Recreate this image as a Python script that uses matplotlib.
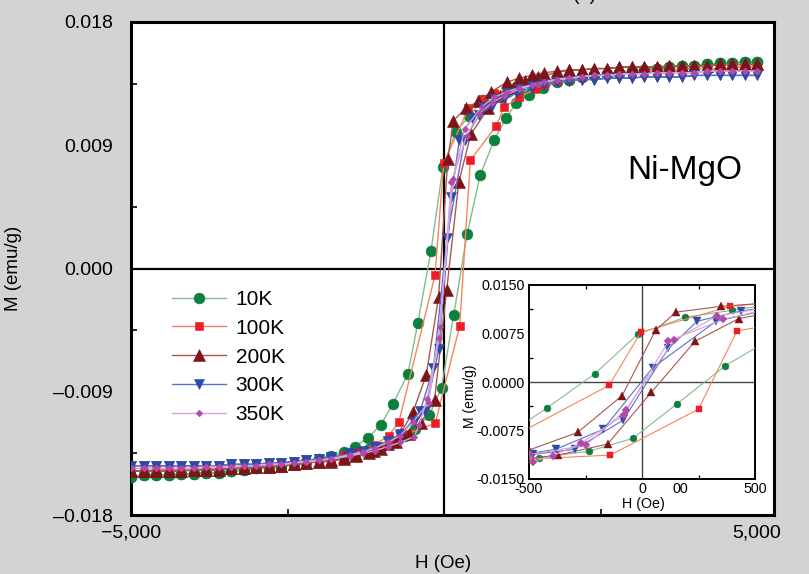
import matplotlib
matplotlib.use("Agg")
import matplotlib.pyplot as plt
from matplotlib.ticker import FixedLocator

plt.rcParams['font.family'] = ['Liberation Sans', 'DejaVu Sans']

# ---- field grid shared by the saturated tails (Oe) ----
H_TAIL_POS = [2000, 2200, 2400, 2600, 2800, 3000, 3200, 3400, 3600, 3800,
              4000, 4200, 4400, 4600, 4800, 5000]
H_TAIL_NEG = [-2000, -2200, -2400, -2600, -2800, -3000, -3200, -3400, -3600, -3800,
              -4000, -4200, -4400, -4600, -4800, -5000]

# ---- 10 K ----
M10_TAIL_POS = [0.0138, 0.0140, 0.0141, 0.0142, 0.0143, 0.0144, 0.0145, 0.0146,
                0.0147, 0.0148, 0.0148, 0.0149, 0.0150, 0.0150, 0.0151, 0.0151]
M10_TAIL_NEG = [-0.0139, -0.0141, -0.0143, -0.0144, -0.0145, -0.0146, -0.0147, -0.0148,
                -0.0149, -0.0149, -0.0150, -0.0150, -0.0151, -0.0151, -0.0151, -0.0152]
H10_DOWN = [1800, 1600, 1400, 1200, 1000, 800, 620, 400, 190, -19, -208, -420,
            -577, -817, -1010, -1218, -1426, -1600, -1800]
M10_DOWN = [0.0137, 0.0135, 0.0133, 0.0131, 0.0129, 0.0127, 0.0123, 0.0111, 0.0100,
            0.0074, 0.0013, -0.0040, -0.0077, -0.0099, -0.0114, -0.0124, -0.0130,
            -0.0134, -0.0137]
H10_UP = [-1800, -1600, -1400, -1200, -1000, -800, -620, -456, -233, -40, 154, 368,
          577, 801, 994, 1154, 1362, 1587, 1800]
M10_UP = [-0.0138, -0.0136, -0.0134, -0.0132, -0.0130, -0.0127, -0.0122, -0.0117,
          -0.0107, -0.0087, -0.0034, 0.0025, 0.0068, 0.0094, 0.0110, 0.0121, 0.0127,
          0.0132, 0.0136]

# ---- 100 K ----
M100_TAIL_POS = [0.0139, 0.0140, 0.0141, 0.0142, 0.0143, 0.0143, 0.0144, 0.0144,
                 0.0145, 0.0145, 0.0146, 0.0146, 0.0146, 0.0147, 0.0147, 0.0147]
M100_TAIL_NEG = [-0.0140, -0.0141, -0.0142, -0.0143, -0.0144, -0.0144, -0.0145, -0.0145,
                 -0.0146, -0.0146, -0.0147, -0.0147, -0.0147, -0.0147, -0.0148, -0.0148]
H100_DOWN = [1800, 1600, 1400, 1200, 1000, 800, 600, 390, -5, -145, -721, -881,
             -1122, -1400, -1600, -1800]
M100_DOWN = [0.0138, 0.0137, 0.0135, 0.0133, 0.0131, 0.0128, 0.0124, 0.0117, 0.0077,
             -0.0005, -0.0112, -0.0122, -0.0129, -0.0134, -0.0136, -0.0138]
H100_UP = [-1800, -1600, -1400, -1200, -1000, -800, -600, -140, 250, 420, 833, 962,
           1200, 1458, 1600, 1800]
M100_UP = [-0.0139, -0.0137, -0.0135, -0.0133, -0.0130, -0.0126, -0.0121, -0.0113,
           -0.0042, 0.0079, 0.0104, 0.0118, 0.0125, 0.0131, 0.0134, 0.0137]

# ---- 200 K ----
M200_TAIL_POS = [0.0145, 0.0145, 0.0146, 0.0146, 0.0147, 0.0147, 0.0147, 0.0147,
                 0.0148, 0.0148, 0.0148, 0.0148, 0.0149, 0.0149, 0.0149, 0.0149]
M200_TAIL_NEG = [-0.0141, -0.0142, -0.0143, -0.0144, -0.0145, -0.0145, -0.0146, -0.0146,
                 -0.0147, -0.0147, -0.0147, -0.0148, -0.0148, -0.0148, -0.0148, -0.0148]
H200_DOWN = [1800, 1600, 1400, 1200, 1000, 753, 545, 350, 150, 60, -88, -285, -498,
             -689, -897, -1122, -1400, -1600, -1800]
M200_DOWN = [0.0144, 0.0143, 0.0141, 0.0139, 0.0136, 0.0129, 0.0122, 0.0117, 0.0108,
             0.0080, -0.0021, -0.0078, -0.0105, -0.0120, -0.0128, -0.0133, -0.0136,
             -0.0138, -0.0140]
H200_UP = [-1800, -1600, -1400, -1200, -1000, -760, -565, -371, -152, 41, 235, 428,
           705, 900, 1100, 1300, 1500, 1800]
M200_UP = [-0.0141, -0.0139, -0.0137, -0.0135, -0.0132, -0.0127, -0.0121, -0.0113,
           -0.0096, -0.0016, 0.0063, 0.0098, 0.0117, 0.0126, 0.0132, 0.0137, 0.0140,
           0.0143]

# ---- 300 K ----
M300_TAIL_POS = [0.0137, 0.0138, 0.0138, 0.0139, 0.0139, 0.0139, 0.0140, 0.0140,
                 0.0140, 0.0140, 0.0141, 0.0141, 0.0141, 0.0141, 0.0141, 0.0141]
M300_TAIL_NEG = [-0.0139, -0.0140, -0.0141, -0.0142, -0.0142, -0.0143, -0.0143, -0.0143,
                 -0.0144, -0.0144, -0.0144, -0.0144, -0.0144, -0.0144, -0.0144, -0.0144]
H300_DOWN = [1800, 1600, 1400, 1200, 1000, 800, 620, 440, 244, 117, -83, -297, -484,
             -700, -900, -1100, -1300, -1500, -1800]
M300_DOWN = [0.0136, 0.0135, 0.0133, 0.0131, 0.0128, 0.0124, 0.0118, 0.0110, 0.0094,
             0.0052, -0.0059, -0.0104, -0.0112, -0.0121, -0.0126, -0.0130, -0.0133,
             -0.0135, -0.0138]
H300_UP = [-1800, -1500, -1300, -1100, -900, -700, -381, -171, 47, 328, 560, 760, 960,
           1160, 1400, 1600, 1800]
M300_UP = [-0.0138, -0.0136, -0.0134, -0.0131, -0.0127, -0.0122, -0.0104, -0.0073,
           0.0022, 0.0094, 0.0112, 0.0119, 0.0124, 0.0128, 0.0132, 0.0134, 0.0136]

# ---- 350 K ----
M350_TAIL_POS = [0.0139, 0.0140, 0.0141, 0.0141, 0.0142, 0.0142, 0.0142, 0.0143,
                 0.0143, 0.0143, 0.0143, 0.0144, 0.0144, 0.0144, 0.0144, 0.0144]
M350_TAIL_NEG = [-0.0140, -0.0141, -0.0142, -0.0143, -0.0143, -0.0144, -0.0144, -0.0145,
                 -0.0145, -0.0145, -0.0146, -0.0146, -0.0146, -0.0146, -0.0146, -0.0146]
H350_DOWN = [1800, 1600, 1400, 1200, 1000, 800, 600, 331, 143, -72, -248, -495, -700,
             -900, -1100, -1300, -1500, -1800]
M350_DOWN = [0.0138, 0.0136, 0.0134, 0.0132, 0.0129, 0.0125, 0.0118, 0.0102, 0.0065,
             -0.0043, -0.0098, -0.0112, -0.0122, -0.0127, -0.0131, -0.0134, -0.0136,
             -0.0139]
H350_UP = [-1800, -1500, -1300, -1100, -900, -700, -481, -393, -272, -80, 117, 360,
           560, 760, 960, 1200, 1500, 1800]
M350_UP = [-0.0139, -0.0137, -0.0135, -0.0133, -0.0130, -0.0127, -0.0123, -0.0114,
           -0.0095, -0.0051, 0.0063, 0.0097, 0.0113, 0.0121, 0.0126, 0.0131, 0.0135,
           0.0138]

LABELS = ['10K', '100K', '200K', '300K', '350K']
TICKS_Y = [-0.018, -0.009, 0.0, 0.009, 0.018]
TICKLABELS_Y = ['\u20130.018', '\u20130.009', '0.000', '0.009', '0.018']
TICKS_X = [-5000, 5000]
TICKLABELS_X = ['\u22125,000', '5,000']
INSET_TICKS_Y = [-0.015, -0.0075, 0.0, 0.0075, 0.015]
INSET_TICKLABELS_Y = ['-0.0150', '-0.0075', '0.0000', '0.0075', '0.0150']
INSET_TICKS_X = [-500, 0, 500]
INSET_TICKLABELS_X = ['-500', '0', '500']

# marker, marker colour, line colour, main size, inset size
STYLES = [
    ('o', '#0d7f3f', '#86bb90', 7.8, 5.0),
    ('s', '#ee1c24', '#f4865c', 5.8, 4.3),
    ('^', '#7d1417', '#a9574f', 8.0, 5.6),
    ('v', '#2d4aa5', '#5c6fc9', 7.0, 5.2),
    ('D', '#b24aa8', '#d6a4d8', 3.4, 4.4),
]

DATA = [
    (M10_TAIL_POS, M10_TAIL_NEG, H10_DOWN, M10_DOWN, H10_UP, M10_UP),
    (M100_TAIL_POS, M100_TAIL_NEG, H100_DOWN, M100_DOWN, H100_UP, M100_UP),
    (M200_TAIL_POS, M200_TAIL_NEG, H200_DOWN, M200_DOWN, H200_UP, M200_UP),
    (M300_TAIL_POS, M300_TAIL_NEG, H300_DOWN, M300_DOWN, H300_UP, M300_UP),
    (M350_TAIL_POS, M350_TAIL_NEG, H350_DOWN, M350_DOWN, H350_UP, M350_UP),
]


def full_loop(tail_pos, tail_neg, h_down, m_down, h_up, m_up):
    """Descending branch (+H to -H) followed by the ascending branch."""
    h = H_TAIL_POS[::-1] + h_down + H_TAIL_NEG + H_TAIL_NEG[::-1] + h_up + H_TAIL_POS
    m = tail_pos[::-1] + m_down + tail_neg + tail_neg[::-1] + m_up + tail_pos
    return h, m


W, H = 809, 574
fig = plt.figure(figsize=(W / 100, H / 100), dpi=100, facecolor='#d2d3d5')

# ---------------- main panel ----------------
ax = fig.add_axes([131 / W, 1 - 515 / H, (774 - 131) / W, (515 - 22) / H])
ax.set_facecolor('white')
ax.set_xlim(-5000, 5270)
ax.set_ylim(-0.018, 0.018)
ax.axhline(0, color='black', lw=1.6, zorder=1)
ax.axvline(0, color='black', lw=1.6, zorder=1)

handles = []
for lab, (mk, mc, lc, ms, _), d in zip(LABELS, STYLES, DATA):
    h, m = full_loop(*d)
    ln, = ax.plot(h, m, color=lc, lw=1.0, marker=mk, ms=ms, mfc=mc, mec=mc,
                  mew=0.4, zorder=3, label=lab)
    handles.append(ln)

for s in ax.spines.values():
    s.set_linewidth(2.2)
ax.set_yticks(TICKS_Y)
ax.set_yticklabels(TICKLABELS_Y)
ax.set_xticks(TICKS_X)
ax.set_xticklabels(TICKLABELS_X)
ax.yaxis.set_minor_locator(FixedLocator([-0.0135, -0.0045, 0.0045, 0.0135]))
ax.xaxis.set_minor_locator(FixedLocator([-2500, 2500]))
ax.tick_params(axis='both', which='both', direction='in', width=1.2)
ax.tick_params(axis='both', which='major', length=0, labelsize=14)
ax.tick_params(axis='both', which='minor', length=4)
ax.tick_params(axis='y', which='major', pad=13)
ax.tick_params(axis='x', which='major', pad=7)

fig.text(443 / W, 1 - 563 / H, 'H (Oe)', ha='center', va='center', fontsize=13.5)
fig.text(14 / W, 1 - 268 / H, 'M (emu/g)', ha='center', va='center',
         rotation=90, fontsize=13.5)
fig.text(627 / W, 1 - 170 / H, 'Ni-MgO', ha='left', va='center', fontsize=24)
fig.text(585 / W, 1 - 0.5 / H, '(a)', ha='center', va='baseline', fontsize=14)

ax.legend(handles=handles, loc='upper left',
          bbox_to_anchor=(172 / W, 1 - 290 / H), bbox_transform=fig.transFigure,
          frameon=False, fontsize=15, handlelength=2.6, handletextpad=0.45,
          labelspacing=0.47, borderpad=0, borderaxespad=0)

# ---------------- inset ----------------
axi = fig.add_axes([529 / W, 1 - 479 / H, (755 - 529) / W, (479 - 285) / H])
axi.set_facecolor('white')
axi.set_xlim(-500, 500)
axi.set_ylim(-0.015, 0.015)
axi.axhline(0, color='#444444', lw=1.0, zorder=1)
axi.axvline(0, color='#444444', lw=1.0, zorder=1)
for lab, (mk, mc, lc, _, msi), d in zip(LABELS, STYLES, DATA):
    h, m = full_loop(*d)
    axi.plot(h, m, color=lc, lw=0.8, marker=mk, ms=msi, mfc=mc, mec=mc,
             mew=0.3, zorder=3)
for s in axi.spines.values():
    s.set_linewidth(1.4)
axi.set_yticks(INSET_TICKS_Y)
axi.set_yticklabels(INSET_TICKLABELS_Y)
axi.set_xticks(INSET_TICKS_X)
axi.set_xticklabels(INSET_TICKLABELS_X)
axi.yaxis.set_minor_locator(FixedLocator([-0.01125, -0.00375, 0.00375, 0.01125]))
axi.xaxis.set_minor_locator(FixedLocator([-250, 250]))
axi.tick_params(axis='both', which='both', direction='in', width=0.9,
                top=True, right=False)
axi.tick_params(axis='both', which='major', length=0, labelsize=10.3, pad=3)
axi.tick_params(axis='x', which='major', pad=2)
axi.tick_params(axis='both', which='minor', length=3)
axi.annotate('00', xy=(170, 0), xycoords=('data', 'axes fraction'),
             xytext=(0, -2), textcoords='offset points',
             ha='center', va='top', fontsize=10.3)
fig.text(643 / W, 1 - 504 / H, 'H (Oe)', ha='center', va='center', fontsize=10.3)
fig.text(470 / W, 1 - 396 / H, 'M (emu/g)', ha='center', va='center',
         rotation=90, fontsize=10)

fig.savefig('out.png', dpi=100, facecolor=fig.get_facecolor())
